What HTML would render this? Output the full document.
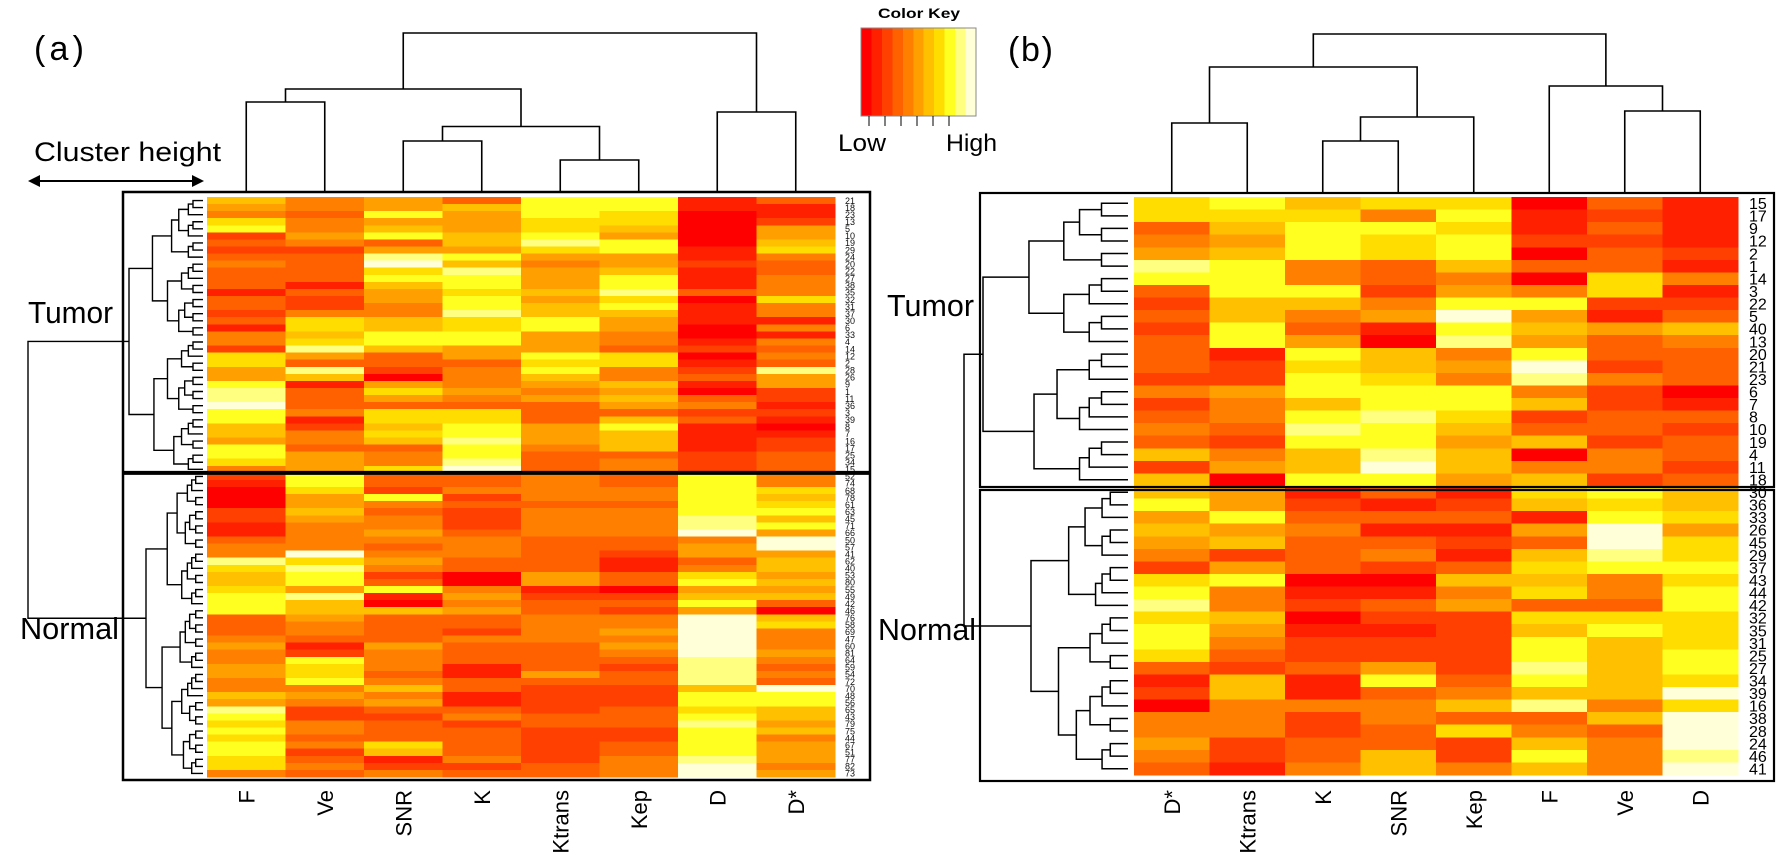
<!DOCTYPE html>
<html><head><meta charset="utf-8"><style>
html,body{margin:0;padding:0;background:#fff}
svg{display:block;font-family:"Liberation Sans",sans-serif}
</style></head><body>
<svg id="fig" width="1776" height="855" viewBox="0 0 1776 855" xmlns="http://www.w3.org/2000/svg">
<text x="34" y="60" font-size="34" textLength="50">(a)</text>
<text x="1008" y="61" font-size="34" textLength="45">(b)</text>
<text x="34" y="161" font-size="27" textLength="187" lengthAdjust="spacingAndGlyphs">Cluster height</text>
<g stroke="#000" stroke-width="2" fill="#000">
<line x1="34" y1="181" x2="198" y2="181"/>
<polygon points="28,181 40,175 40,187" stroke="none"/>
<polygon points="204,181 192,175 192,187" stroke="none"/>
</g>
<text x="28" y="323" font-size="31" textLength="85" lengthAdjust="spacingAndGlyphs">Tumor</text>
<text x="20" y="639" font-size="31" textLength="99" lengthAdjust="spacingAndGlyphs">Normal</text>
<text x="887" y="316" font-size="31" textLength="87" lengthAdjust="spacingAndGlyphs">Tumor</text>
<text x="878" y="640" font-size="31" textLength="98" lengthAdjust="spacingAndGlyphs">Normal</text>
<text x="878" y="18" font-size="14" font-weight="bold" textLength="82" lengthAdjust="spacingAndGlyphs">Color Key</text>
<text x="838" y="151" font-size="24" textLength="48" lengthAdjust="spacingAndGlyphs">Low</text>
<text x="946" y="151" font-size="24" textLength="51" lengthAdjust="spacingAndGlyphs">High</text>
<g id="layer"></g>
</svg>
<script>
const palette=["#FF0000","#FF2000","#FF4000","#FF6000","#FF8000","#FFA000","#FFC000","#FFDD00","#FFFF20","#FFFF80","#FFFFD8"];
const colsA=["F","Ve","SNR","K","Ktrans","Kep","D","D*"];
const colsB=["D*","Ktrans","K","SNR","Kep","F","Ve","D"];
const tumorA=[
[6,4,5,3,8,8,1,3],[5,4,5,6,8,8,1,1],[4,3,8,5,8,7,0,1],[7,4,5,5,7,7,0,2],[8,4,6,5,7,6,0,5],
[2,5,8,6,8,5,0,5],[3,4,3,6,9,8,0,6],[2,2,5,5,7,8,1,7],[3,3,9,8,5,5,1,4],[4,3,10,6,4,5,2,3],
[3,3,7,9,5,6,1,3],[3,3,8,8,5,8,1,4],[3,1,6,8,5,8,1,4],[1,3,5,7,6,9,3,4],[3,2,5,8,5,7,0,7],
[3,2,4,8,6,8,1,4],[2,4,4,9,6,6,1,4],[3,7,6,7,8,5,1,1],[1,7,6,7,8,5,0,4],[4,6,8,8,5,4,0,1],
[4,7,8,8,5,4,1,4],[2,9,6,5,5,3,2,3],[7,5,3,5,8,7,0,4],[7,3,3,3,7,7,1,3],[5,9,2,4,8,4,2,9],
[5,6,0,4,6,4,3,5],[8,1,5,4,5,6,1,5],[9,3,7,5,4,5,0,2],[9,3,5,4,5,6,3,2],[10,3,3,3,3,5,4,1],
[8,4,7,7,3,3,2,2],[8,1,7,7,3,6,3,1],[6,2,6,8,5,8,1,0],[6,4,7,8,5,6,1,1],[5,4,6,9,5,6,1,2],
[8,3,3,8,4,6,1,2],[8,5,4,8,3,3,2,3],[7,5,4,9,3,4,2,3],[4,5,7,10,3,4,2,3]];
const normalA=[
[2,8,3,3,4,3,8,4],[1,8,3,3,4,3,8,4],[0,7,2,4,4,4,8,7],[0,5,8,2,4,4,8,6],[0,5,4,3,3,3,8,7],
[2,6,3,2,4,4,8,8],[2,5,4,2,4,4,9,6],[1,4,4,2,4,4,9,8],[1,4,5,3,4,4,10,5],[3,4,4,4,3,3,4,10],
[4,4,3,4,3,3,5,10],[4,10,4,4,3,2,5,5],[9,7,5,3,3,1,3,6],[7,9,4,3,3,1,4,6],[6,8,2,0,5,3,7,5],
[6,8,3,0,5,3,8,6],[7,5,8,4,1,0,5,5],[8,9,1,5,2,2,6,6],[8,6,0,4,3,3,8,3],[8,6,6,5,3,2,5,0],
[3,5,3,3,4,4,10,6],[3,4,3,3,4,4,10,7],[3,4,3,2,4,5,10,4],[4,3,3,4,4,4,10,4],[5,1,5,3,3,5,10,4],
[4,2,4,3,3,4,10,5],[4,8,4,3,3,3,9,4],[5,7,4,1,3,2,9,3],[5,7,3,1,5,3,9,4],[4,8,4,3,3,3,9,3],
[4,4,6,3,2,2,6,10],[6,5,4,1,2,2,8,8],[5,4,5,1,2,2,8,8],[9,2,3,3,2,3,7,6],[8,2,2,4,3,3,8,6],
[7,4,3,2,3,3,9,5],[8,4,3,3,2,2,8,6],[7,3,3,3,2,2,8,4],[8,4,7,3,2,3,8,5],[8,2,6,3,2,3,8,5],
[7,3,1,4,2,4,9,5],[7,4,2,2,3,4,10,4],[4,3,4,3,3,4,10,5]];
const labelsTumorA=[21,18,23,13,5,10,19,29,24,20,22,27,38,35,32,31,37,30,6,33,4,14,12,2,28,26,9,1,11,36,3,39,8,7,16,17,25,34,15];
const labelsNormalA=[52,74,68,78,61,63,45,71,66,50,57,41,62,40,53,80,55,49,42,46,76,58,69,47,60,81,64,59,54,72,70,48,56,65,43,79,75,44,67,51,77,82,73];
const tumorB=[
[7,8,6,7,7,0,3,1],[7,7,7,4,8,1,2,1],[3,6,8,8,7,1,3,1],[4,5,8,7,8,2,2,1],[5,6,8,7,8,0,3,2],
[9,8,4,3,6,3,3,1],[8,8,4,3,4,0,7,4],[3,8,8,2,5,4,7,1],[2,6,6,4,8,8,2,2],[3,6,4,5,10,5,1,3],
[2,8,3,1,8,6,5,6],[3,8,5,0,9,5,3,4],[3,1,8,6,4,8,3,3],[3,2,7,6,5,10,2,3],[2,2,8,7,4,9,4,3],
[4,5,8,8,8,4,2,0],[2,4,6,8,8,6,2,1],[3,4,8,9,7,2,3,3],[4,3,9,8,6,3,3,2],[3,2,8,8,5,6,2,3],
[6,4,6,9,6,0,4,3],[2,5,6,10,6,4,4,2],[6,0,8,8,5,6,2,3]];
const normalB=[
[6,5,1,3,1,7,8,6],[8,5,2,1,2,6,7,6],[5,8,3,3,3,1,8,7],[6,5,4,1,1,5,10,5],[5,6,3,3,2,3,10,7],
[4,2,3,4,1,6,9,7],[2,5,3,2,3,7,8,8],[7,8,0,0,6,6,4,7],[8,4,1,1,4,7,4,8],[9,4,2,3,5,3,3,8],
[7,6,0,2,2,7,7,7],[8,5,1,1,2,6,8,7],[8,4,2,2,2,8,6,7],[7,3,2,2,2,8,6,8],[3,2,3,5,2,9,6,8],
[1,6,1,8,3,8,6,7],[2,6,1,3,4,6,6,10],[0,4,4,4,6,9,4,7],[4,4,2,4,3,3,6,10],[4,4,2,3,7,4,3,10],
[5,2,3,3,2,6,4,10],[4,2,3,6,2,8,4,9],[3,1,4,6,4,6,4,10]];
const labelsTumorB=[15,17,9,12,2,1,14,3,22,5,40,13,20,21,23,6,7,8,10,19,4,11,18];
const labelsNormalB=[30,36,33,26,45,29,37,43,44,42,32,35,31,25,27,34,39,16,38,28,24,46,41];
const mergesA=[[0,1,102],[4,5,160],[2,3,141],[10,9,126.5],[8,11,89],[6,7,112],[12,13,33]];
const mergesB=[[0,1,123],[2,3,141],[9,4,117],[8,10,67],[6,7,111],[5,12,86],[11,13,34]];

const NS="http://www.w3.org/2000/svg";
const layer=document.getElementById("layer");
function mk(tag,attrs,parent){const e=document.createElementNS(NS,tag);for(const k in attrs)e.setAttribute(k,attrs[k]);(parent||layer).appendChild(e);return e;}
function colorOf(v){const i=Math.max(0,Math.min(10,Math.round(v)));return palette[i];}

function heatmap(name,rows,cols,x0,x1,y0,y1){
  const g=mk("g",{"shape-rendering":"crispEdges"});
  
  
  const cw=(x1-x0)/cols.length, rh=(y1-y0)/rows.length;
  rows.forEach((r,i)=>{r.forEach((v,j)=>{
    const c=mk("rect",{x:x0+j*cw,y:y0+i*rh,width:cw+0.6,height:rh+0.6,fill:colorOf(v)},g);
    
    
  });});
  return {cw,rh};
}
function colLabels(cols,x0,cw,y){
  cols.forEach((c,j)=>{
    const cx=x0+(j+0.5)*cw+8;
    const t=mk("text",{transform:`translate(${cx},${y}) rotate(-90)`,"text-anchor":"end","font-size":"22"});
    t.textContent=c;
    
    
  });
}
function rowLabels(labels,x,y0,rh,fs,fill){
  labels.forEach((l,i)=>{
    const t=mk("text",{x:x,y:y0+(i+0.5)*rh+fs*0.36,"font-size":fs,fill:fill});
    t.textContent=l;
    
    
  });
}
function colDendro(merges,x0,cw,baseY){
  const g=mk("g",{stroke:"#000","stroke-width":"1.6",fill:"none"});
  
  
  const nodes=[];for(let i=0;i<8;i++)nodes.push({x:x0+(i+0.5)*cw,y:baseY});
  merges.forEach(m=>{const a=nodes[m[0]],b=nodes[m[1]],h=m[2];
    mk("path",{d:`M${a.x},${a.y}V${h}H${b.x}V${b.y}`},g);
    nodes.push({x:(a.x+b.x)/2,y:h});});
}
function rowDendro(g,ys,lo,hi,leafX,rootX,N,depth){
  if(lo===hi)return {x:leafX,y:ys[lo]};
  const f=[0.5,0.42,0.58,0.35,0.62][depth%5];
  let mid=lo+Math.max(0,Math.min(hi-lo-1,Math.round((hi-lo)*f)));
  const a=rowDendro(g,ys,lo,mid,leafX,rootX,N,depth+1);
  const b=rowDendro(g,ys,mid+1,hi,leafX,rootX,N,depth+2);
  const n=hi-lo+1;
  let x=leafX-(leafX-rootX)*Math.pow((n-1)/(N-1),0.55);
  x=Math.min(x,Math.min(a.x,b.x)-4);
  mk("path",{d:`M${a.x},${a.y}H${x}V${b.y}H${b.x}`},g);
  return {x:x,y:(a.y+b.y)/2};
}

// Panel A
const rowsA=tumorA.concat(normalA);
const hA=heatmap("heatmap-a",rowsA,colsA,207,835,197,777);
colLabels(colsA,207,hA.cw,790);
rowLabels(labelsTumorA.concat(labelsNormalA),845,197,hA.rh,9,"#111");
colDendro(mergesA,207,hA.cw,192);
(function(){
  const g=mk("g",{stroke:"#000","stroke-width":"1.4",fill:"none"});
  
  
  const ysT=tumorA.map((r,i)=>197+(i+0.5)*hA.rh);
  const ysN=normalA.map((r,i)=>197+(tumorA.length+i+0.5)*hA.rh);
  const t=rowDendro(g,ysT,0,ysT.length-1,203,129,ysT.length,0);
  const n=rowDendro(g,ysN,0,ysN.length-1,203,146,ysN.length,1);
  mk("path",{d:`M${t.x},${t.y}H28V${n.y}H${n.x}`},g);
})();
const boxA=mk("rect",{x:123,y:192,width:747,height:588,fill:"none",stroke:"#000","stroke-width":"2.5"});


const divA=mk("line",{x1:123,x2:870,y1:197+tumorA.length*hA.rh,y2:197+tumorA.length*hA.rh,stroke:"#000","stroke-width":"4"});



// Panel B
const rowsB=tumorB.concat(normalB);
const hB=heatmap("heatmap-b",rowsB,colsB,1134,1738,197,775);
colLabels(colsB,1134,hB.cw,790);
rowLabels(labelsTumorB.concat(labelsNormalB),1749,197,hB.rh,16,"#000");
colDendro(mergesB,1134,hB.cw,192);
(function(){
  const g=mk("g",{stroke:"#000","stroke-width":"1.5",fill:"none"});
  
  
  const ysT=tumorB.map((r,i)=>197+(i+0.5)*hB.rh);
  const ysN=normalB.map((r,i)=>197+(tumorB.length+i+0.5)*hB.rh);
  const t=rowDendro(g,ysT,0,ysT.length-1,1128,983,ysT.length,0);
  const n=rowDendro(g,ysN,0,ysN.length-1,1128,1031,ysN.length,1);
  mk("path",{d:`M${t.x},${t.y}H964V${n.y}H${n.x}`},g);
})();
const yDivB=197+tumorB.length*hB.rh;
const boxBT=mk("rect",{x:980,y:193,width:794,height:yDivB-193+1,fill:"none",stroke:"#000","stroke-width":"2.2"});


const boxBN=mk("rect",{x:980,y:yDivB+4,width:794,height:781-yDivB-4,fill:"none",stroke:"#000","stroke-width":"2.2"});



// Color key
(function(){
  const g=mk("g",{"shape-rendering":"crispEdges"});
  
  
  const x0=861,x1=976,n=palette.length,w=(x1-x0)/n;
  palette.forEach((c,i)=>{const r=mk("rect",{x:x0+i*w,y:28,width:w+0.5,height:88,fill:c},g);
    
    });
  mk("rect",{x:x0,y:28,width:x1-x0,height:88,fill:"none",stroke:"#888","stroke-width":"1"},g);
  [0,1,2,3,4,5].forEach(k=>{mk("line",{x1:869+k*16,x2:869+k*16,y1:116,y2:126,stroke:"#000","stroke-width":"1"},g);});
})();
</script>
</body></html>
